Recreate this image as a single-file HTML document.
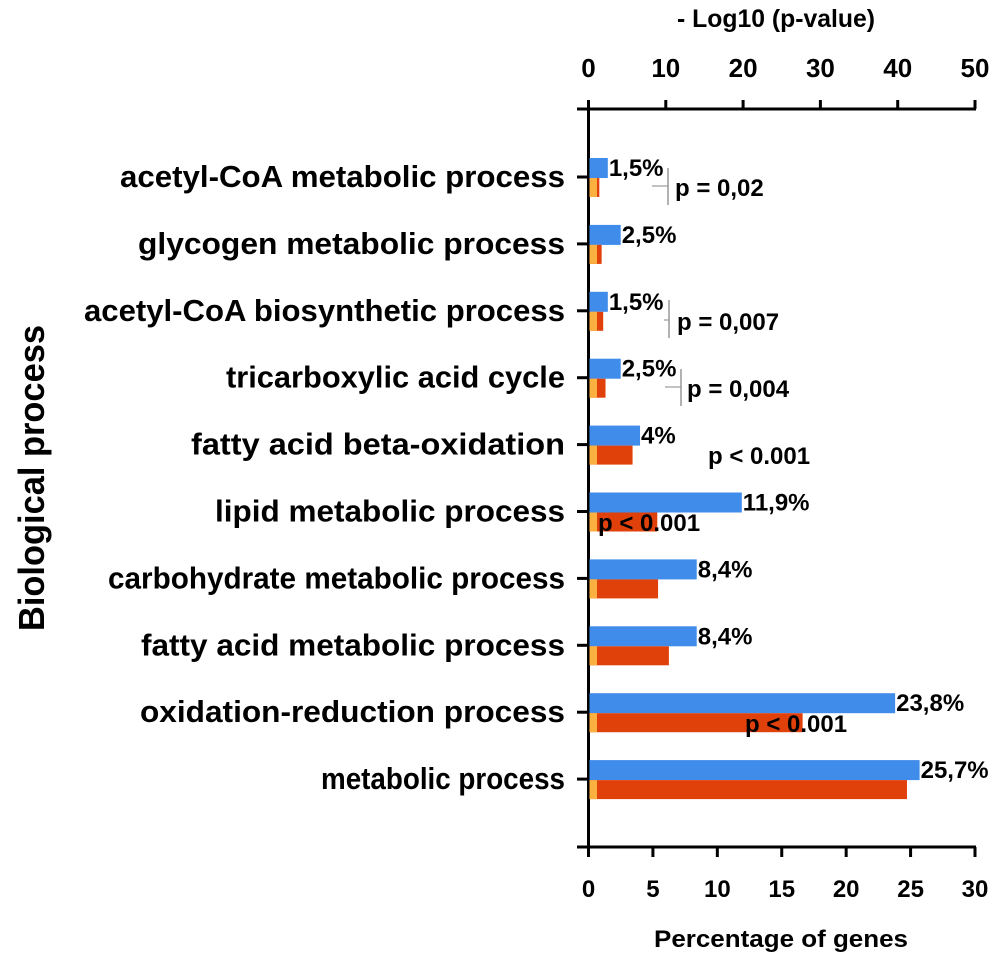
<!DOCTYPE html>
<html><head><meta charset="utf-8"><style>
body{margin:0;background:#fff}
svg{display:block;font-family:"Liberation Sans",Arial,sans-serif;font-weight:bold}
</style></head><body>
<svg id="chart" width="1000" height="959" viewBox="0 0 1000 959" xmlns="http://www.w3.org/2000/svg"></svg>
<script>
const categories=["acetyl-CoA metabolic process","glycogen metabolic process","acetyl-CoA biosynthetic process","tricarboxylic acid cycle","fatty acid beta-oxidation","lipid metabolic process","carbohydrate metabolic process","fatty acid metabolic process","oxidation-reduction process","metabolic process"];
const percentValues=[1.5,2.5,1.5,2.5,4,11.9,8.4,8.4,23.8,25.7];
const percentLabels=["1,5%","2,5%","1,5%","2,5%","4%","11,9%","8,4%","8,4%","23,8%","25,7%"];
const logPValues=[1.4,1.7,1.9,2.2,5.7,8.9,9.0,10.4,27.7,41.2];
const thresholdValues=[1.1,1.1,1.1,1.1,1.1,1.1,1.1,1.1,1.1,1.1];
const bottomTicks=[0,5,10,15,20,25,30];
const topTicks=[0,10,20,30,40,50];
const labelWidths=[445,427,481,339,374,350,457,424,425,244];

const NS="http://www.w3.org/2000/svg";
const svg=document.getElementById('chart');
const X0=588.5;
const xPct=v=>X0+v*(975-X0)/30;
const xLog=v=>X0+v*(975-X0)/50;
const yRow=i=>177+i*66.9;
function el(tag,attrs,txt){const e=document.createElementNS(NS,tag);for(const k in attrs)e.setAttribute(k,attrs[k]);if(txt!==undefined)e.textContent=txt;svg.appendChild(e);return e;}

let a=el('line',{x1:577,y1:109,x2:976,y2:109,stroke:'#000','stroke-width':3});

a=el('line',{x1:X0,y1:100,x2:X0,y2:848,stroke:'#000','stroke-width':3});

a=el('line',{x1:577,y1:847,x2:976,y2:847,stroke:'#000','stroke-width':3});


topTicks.forEach(t=>{
  const x=xLog(t);
  let l=el('line',{x1:x,y1:100,x2:x,y2:109,stroke:'#000','stroke-width':3});
  
  let tx=el('text',{x:x,y:77,'text-anchor':'middle','font-size':26},String(t));
  
});
bottomTicks.forEach(t=>{
  const x=xPct(t);
  let l=el('line',{x1:x,y1:847,x2:x,y2:857,stroke:'#000','stroke-width':3});
  
  let tx=el('text',{x:x,y:897,'text-anchor':'middle','font-size':24},String(t));
  
});

categories.forEach((c,i)=>{
  const y=yRow(i);
  let l=el('line',{x1:577,y1:y,x2:X0,y2:y,stroke:'#000','stroke-width':3});
  
  let t=el('text',{x:565,y:y+10,'text-anchor':'end','font-size':31,textLength:labelWidths[i],lengthAdjust:'spacingAndGlyphs'},c);
  
  let b=el('rect',{x:X0+1,y:y-19,width:xPct(percentValues[i])-X0-1,height:20,fill:'#3f8ceb'});
  
  let r=el('rect',{x:X0+1,y:y+1,width:xLog(logPValues[i])-X0-1,height:19,fill:'#e0400a'});
  
  let yb=el('rect',{x:X0+1,y:y+1,width:xLog(thresholdValues[i])-X0-1,height:19,fill:'#fbb040'});
  
  let v=el('text',{x:xPct(percentValues[i])+1,y:y-1,'font-size':24},percentLabels[i]);
  
});

const ann=[[675,196,"p = 0,02"],[677,330,"p = 0,007"],[687,397,"p = 0,004"],[708,464,"p < 0.001"],[598,531,"p < 0.001"],[745,732,"p < 0.001"]];
ann.forEach(p=>{let t=el('text',{x:p[0],y:p[1],'font-size':24},p[2]);
  });
[[668,168,205,652,186],[669,300,338,664,320],[681,369,406,665,387]].forEach(b=>{
  let l=el('line',{x1:b[0],y1:b[1],x2:b[0],y2:b[2],stroke:'#999','stroke-width':1.5});
  
  let h=el('line',{x1:b[3],y1:b[4],x2:b[0],y2:b[4],stroke:'#999','stroke-width':1.2});
  
});

let t=el('text',{x:776,y:27,'text-anchor':'middle','font-size':25,textLength:198,lengthAdjust:'spacingAndGlyphs'},"- Log10 (p-value)");

t=el('text',{x:781,y:947,'text-anchor':'middle','font-size':24,textLength:254,lengthAdjust:'spacingAndGlyphs'},"Percentage of genes");

t=el('text',{x:0,y:0,'text-anchor':'middle','font-size':36,transform:'translate(44,478) rotate(-90)',textLength:306,lengthAdjust:'spacingAndGlyphs'},"Biological process");

</script>
</body></html>
